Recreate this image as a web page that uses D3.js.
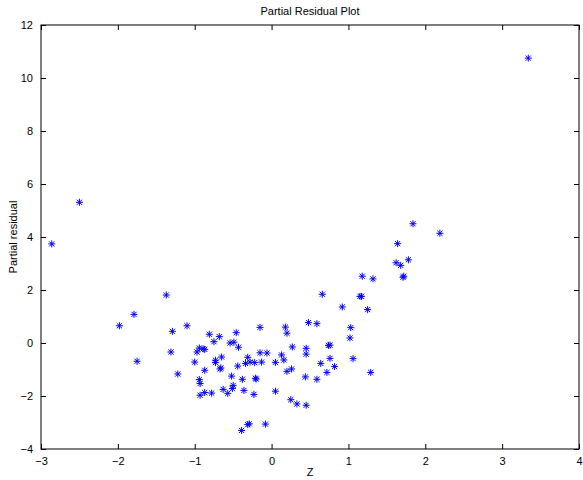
<!DOCTYPE html>
<html>
<head>
<meta charset="utf-8">
<script src="https://cdn.jsdelivr.net/npm/d3@7"></script>
<style>
body { margin: 0; background: #fff; }
svg text { font-family: "Liberation Sans", Arial, sans-serif; fill: #000; }
</style>
</head>
<body>
<div id="chart"></div>
<script>
// values
var zVals = [
  -2.86, -2.50, -1.79, -1.37, -1.98, -1.29, -1.10, -1.75, -1.31, -1.22,
  -0.81, -0.68, -0.75, -0.46, -0.15, 0.18, 0.20, 0.27, -0.54, -0.49,
  -0.43, -0.94, -0.97, -0.87, -0.89, -1.00, -0.73, -0.73, -0.65, -0.87,
  -0.67, -0.66, -0.31, -0.44, -0.34, -0.28, -0.22, -0.13, -0.15, -0.06,
  0.05, 0.13, 0.16, 0.26, 0.20, -0.52, -0.38, -0.21, -0.20, -0.94,
  -0.93, -0.50, -0.51, -0.63, -0.57, -0.36, -0.23, 0.05, -0.87, -0.78,
  -0.93, 0.25, 0.33, -0.31, -0.29, -0.39, -0.08,
  0.66, 1.15, 1.17, 0.92, 1.25, 0.48, 0.59, 1.03, 1.02, 0.45,
  0.45, 0.74, 0.76, 0.76, 1.06, 0.64, 0.82, 0.72, 0.59, 0.44,
  1.29, 0.45, 1.84, 2.19, 1.64, 1.62, 1.68, 1.78, 1.71, 1.72,
  1.18, 1.32, 3.34
];
var residVals = [
  3.74, 5.31, 1.08, 1.81, 0.65, 0.44, 0.65, -0.69, -0.34, -1.17,
  0.33, 0.24, 0.05, 0.39, 0.59, 0.60, 0.37, -0.15, 0.00, 0.03,
  -0.16, -0.19, -0.34, -0.24, -0.22, -0.72, -0.65, -0.74, -0.53, -1.03,
  -0.98, -0.94, -0.54, -0.87, -0.77, -0.72, -0.74, -0.72, -0.37, -0.38,
  -0.73, -0.45, -0.64, -0.98, -1.07, -1.25, -1.37, -1.33, -1.36, -1.38,
  -1.53, -1.60, -1.72, -1.75, -1.90, -1.79, -1.94, -1.82, -1.87, -1.89,
  -1.97, -2.14, -2.30, -3.08, -3.05, -3.30, -3.06,
  1.84, 1.76, 1.76, 1.36, 1.26, 0.77, 0.73, 0.58, 0.19, -0.20,
  -0.42, -0.09, -0.08, -0.58, -0.59, -0.77, -0.89, -1.11, -1.37, -1.28,
  -1.11, -2.35, 4.50, 4.14, 3.75, 3.03, 2.93, 3.14, 2.48, 2.52,
  2.52, 2.42, 10.75
];
var xTicks = [-3, -2, -1, 0, 1, 2, 3, 4];
var yTicks = [-4, -2, 0, 2, 4, 6, 8, 10, 12];

var W = 583, H = 480;
var margin = {top: 25, right: 4, bottom: 31, left: 41},
    width = W - margin.left - margin.right,
    height = H - margin.top - margin.bottom;

var svg = d3.select("#chart").append("svg")
    .attr("width", W)
    .attr("height", H);

var g = svg.append("g")
    .attr("transform", "translate(" + margin.left + "," + margin.top + ")");

var x = d3.scaleLinear().domain([-3, 4]).range([0, width]);
var y = d3.scaleLinear().domain([-4, 12]).range([height, 0]);

var fmt = function(d) { return d < 0 ? "\u2212" + Math.abs(d) : "" + d; };

// bottom + top axes (ticks point inward)
var xAxis = g.append("g")
    .attr("transform", "translate(0," + height + ")")
    .call(d3.axisBottom(x).tickValues(xTicks).tickSizeInner(-5).tickSizeOuter(0).tickPadding(8).tickFormat(fmt));
var xTop = g.append("g")
    .call(d3.axisTop(x).tickValues(xTicks).tickSizeInner(-5).tickSizeOuter(0).tickFormat(""));

var yAxis = g.append("g")
    .call(d3.axisLeft(y).tickValues(yTicks).tickSizeInner(-5).tickSizeOuter(0).tickPadding(8).tickFormat(fmt));
var yRight = g.append("g")
    .attr("transform", "translate(" + width + ",0)")
    .call(d3.axisRight(y).tickValues(yTicks).tickSizeInner(-5).tickSizeOuter(0).tickFormat(""));

[xAxis, xTop, yAxis, yRight].forEach(function(a) {
  a.select(".domain").remove();
  a.selectAll(".tick line").attr("stroke", "#000");
  a.selectAll("text").attr("font-size", 11).attr("font-family", "Liberation Sans, Arial, sans-serif");
});

g.append("rect")
    .attr("width", width)
    .attr("height", height)
    .attr("fill", "none")
    .attr("stroke", "#000")
    .attr("stroke-width", 1);

// asterisk markers
var r = 3.5, rd = 2.6;
var star = "M0," + (-r) + "V" + r + "M" + (-r) + ",0H" + r +
    "M" + (-rd) + "," + (-rd) + "L" + rd + "," + rd +
    "M" + (-rd) + "," + rd + "L" + rd + "," + (-rd);

g.selectAll(".dot")
    .data(zVals.map(function(z, i) { return {z: z, r: residVals[i]}; }))
    .enter().append("path")
    .attr("class", "dot")
    .attr("transform", function(d) { return "translate(" + x(d.z) + "," + y(d.r) + ")"; })
    .attr("d", star)
    .attr("stroke", "#0000ff")
    .attr("stroke-width", 1)
    .attr("fill", "none");

svg.append("text")
    .attr("x", margin.left + width / 2)
    .attr("y", 15)
    .attr("text-anchor", "middle")
    .attr("font-size", 11)
    .text("Partial Residual Plot");

svg.append("text")
    .attr("x", margin.left + width / 2)
    .attr("y", 476)
    .attr("text-anchor", "middle")
    .attr("font-size", 11)
    .text("Z");

svg.append("text")
    .attr("transform", "translate(17," + (margin.top + height / 2) + ") rotate(-90)")
    .attr("text-anchor", "middle")
    .attr("font-size", 11)
    .text("Partial residual");
</script>
</body>
</html>
